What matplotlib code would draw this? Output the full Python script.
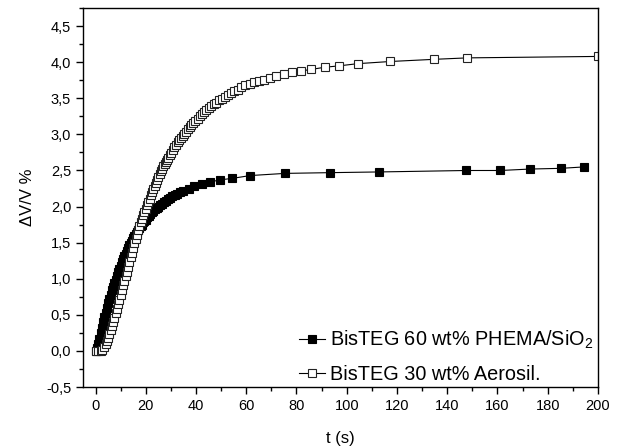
import numpy as np
import matplotlib
matplotlib.use("Agg")
import matplotlib.pyplot as plt
from matplotlib.ticker import MultipleLocator, FuncFormatter

plt.rcParams['font.family'] = ['Liberation Sans', 'DejaVu Sans']
plt.rcParams['mathtext.fontset'] = 'custom'
plt.rcParams['mathtext.rm'] = 'Liberation Sans'

# BisTEG 60 wt% PHEMA/SiO2 (filled squares)
t_phema = [0, 0.5, 1.0, 1.5, 2.0, 2.5, 3.0, 3.5, 4.0, 4.5,
           5.0, 5.5, 6.0, 6.5, 7.0, 7.5, 8.0, 8.5, 9.0, 9.5,
           10.0, 10.5, 11.0, 11.5, 12.0, 12.5, 13.0, 13.5, 14.0, 14.5,
           15.0, 15.5, 16.0, 16.5, 17.0, 17.5, 18.0, 18.5, 19.0, 19.5,
           20.0, 20.6, 21.2, 21.8, 22.4, 23.0, 23.6, 24.3, 25.0, 25.7,
           26.4, 27.2, 28.0, 28.8, 29.7, 30.6, 31.6, 32.6, 33.7, 35.0,
           37.1, 39.4, 42.4, 45.7, 49.4, 54.3, 61.6, 75.5, 93.2, 113.0,
           147.6, 161.0, 173.0, 185.4, 194.6]
dv_phema = [0.00, 0.04, 0.10, 0.17, 0.25, 0.32, 0.40, 0.47, 0.53, 0.60,
            0.66, 0.72, 0.78, 0.84, 0.89, 0.94, 0.99, 1.04, 1.09, 1.14,
            1.18, 1.23, 1.27, 1.31, 1.35, 1.39, 1.43, 1.47, 1.50, 1.53,
            1.56, 1.59, 1.62, 1.65, 1.68, 1.70, 1.73, 1.75, 1.78, 1.80,
            1.82, 1.85, 1.87, 1.90, 1.92, 1.94, 1.96, 1.98, 2.00, 2.02,
            2.04, 2.06, 2.08, 2.10, 2.12, 2.14, 2.16, 2.18, 2.20, 2.22,
            2.25, 2.28, 2.31, 2.34, 2.37, 2.39, 2.43, 2.46, 2.47, 2.48,
            2.50, 2.50, 2.52, 2.53, 2.55]

# BisTEG 30 wt% Aerosil (open squares)
t_aero = [0, 1.0, 2.0, 2.7, 3.3, 4.0, 4.5, 5.0, 5.5, 6.0,
          6.5, 7.0, 7.5, 8.0, 8.5, 9.0, 9.5, 10.0, 10.5, 11.0,
          11.5, 12.0, 12.5, 13.0, 13.5, 14.0, 14.5, 15.0, 15.5, 16.0,
          16.5, 17.0, 17.5, 18.0, 18.5, 19.0, 19.5, 20.0, 20.5, 21.0,
          21.5, 22.0, 22.5, 23.0, 23.5, 24.0, 24.5, 25.0, 25.5, 26.0,
          26.5, 27.0, 27.5, 28.0, 28.5, 29.0, 29.5, 30.0, 30.7, 31.4,
          32.0, 32.7, 33.4, 34.0, 34.7, 35.4, 36.0, 36.8, 37.5, 38.2,
          39.0, 39.8, 40.6, 41.4, 42.3, 43.2, 44.1, 45.0, 46.0, 47.0,
          48.0, 49.1, 50.2, 51.4, 52.6, 53.9, 55.2, 56.6, 58.1, 59.7,
          61.4, 63.2, 65.0, 67.0, 69.3, 72.0, 75.1, 78.4, 81.9, 85.9,
          91.2, 97.1, 104.4, 117.4, 134.9, 148.0, 200.0]
dv_aero = [0.00, 0.00, 0.00, 0.01, 0.05, 0.10, 0.14, 0.18, 0.23, 0.29,
           0.34, 0.40, 0.46, 0.52, 0.58, 0.65, 0.71, 0.78, 0.84, 0.91,
           0.97, 1.04, 1.10, 1.17, 1.23, 1.30, 1.36, 1.43, 1.49, 1.55,
           1.61, 1.67, 1.73, 1.78, 1.83, 1.88, 1.93, 1.97, 2.02, 2.07,
           2.11, 2.16, 2.20, 2.25, 2.29, 2.33, 2.37, 2.41, 2.45, 2.49,
           2.52, 2.56, 2.59, 2.62, 2.65, 2.68, 2.71, 2.74, 2.78, 2.82,
           2.85, 2.89, 2.92, 2.95, 2.98, 3.01, 3.04, 3.07, 3.10, 3.13,
           3.16, 3.19, 3.22, 3.25, 3.28, 3.31, 3.34, 3.36, 3.39, 3.42,
           3.44, 3.47, 3.49, 3.52, 3.55, 3.57, 3.60, 3.62, 3.65, 3.68,
           3.70, 3.72, 3.74, 3.76, 3.78, 3.81, 3.84, 3.86, 3.88, 3.90,
           3.93, 3.95, 3.98, 4.01, 4.04, 4.06, 4.08]

labels = ['BisTEG 60 wt% PHEMA/SiO$_2$', 'BisTEG 30 wt% Aerosil.']

fig = plt.figure(figsize=(6.19, 4.48), dpi=100)
ax = fig.add_axes([0.134, 0.136, 0.832, 0.846])

ax.plot(t_phema, dv_phema, '-s', color='black', lw=0.8, ms=6,
        mfc='black', mec='black', mew=0.8, label=labels[0])
ax.plot(t_aero, dv_aero, '-s', color='black', lw=0.8, ms=6,
        mfc='white', mec='#222222', mew=0.8, label=labels[1])

ax.set_xlim(-5, 200)
ax.set_ylim(-0.5, 4.75)
ax.xaxis.set_major_locator(MultipleLocator(20))
ax.xaxis.set_minor_locator(MultipleLocator(10))
ax.yaxis.set_major_locator(MultipleLocator(0.5))
ax.yaxis.set_minor_locator(MultipleLocator(0.25))
ax.yaxis.set_major_formatter(FuncFormatter(lambda v, p: f'{v:.1f}'.replace('.', ',')))
ax.tick_params(which='both', direction='out', top=False, right=False, labelsize=10.5)
ax.tick_params(which='major', length=5, width=1)
ax.tick_params(which='minor', length=3, width=1)
for s in ax.spines.values():
    s.set_linewidth(1.0)

ax.set_xlabel('t (s)', fontsize=12, labelpad=13)
ax.set_ylabel('ΔV/V %', fontsize=12, labelpad=8)

ax.legend(loc='lower right', bbox_to_anchor=(1.007, -0.013), frameon=False, fontsize=14.3,
          handlelength=1.35, handletextpad=0.25, labelspacing=0.7, borderaxespad=0.0)

fig.savefig('out.png', dpi=100)
